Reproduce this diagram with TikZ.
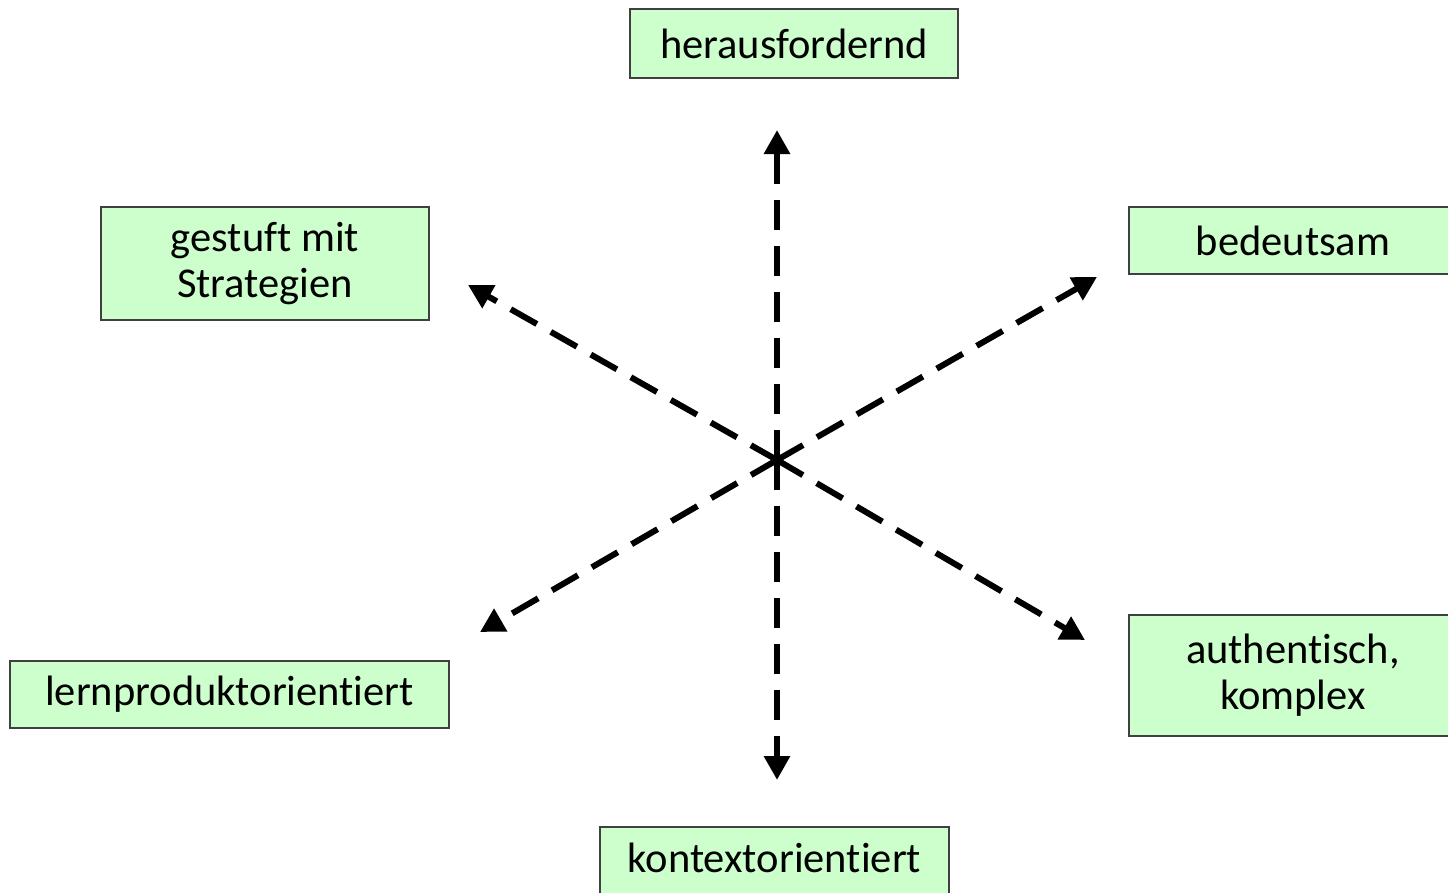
\documentclass[tikz,border=0pt]{standalone}
\usepackage{fontspec}
\setmainfont{Carlito}[Ligatures={NoCommon}]
\usetikzlibrary{arrows.meta}
\definecolor{boxgreen}{HTML}{CCFFCC}
\definecolor{boxline}{HTML}{404040}
\begin{document}
\begin{tikzpicture}[x=1pt,y=-1pt,
  box/.style={draw=boxline,line width=2pt,fill=boxgreen,rectangle,inner sep=0pt,
    align=center,font=\fontsize{42.5}{46}\selectfont},
  dasharrow/.style={line width=6pt,dash pattern=on 30pt off 16pt,
    -{Triangle[length=24pt,width=25pt]}}]
\clip (0,0) rectangle (1448,892);
\fill[white] (0,0) rectangle (1448,892);
\node[box,minimum width=328pt,minimum height=69pt] (top) at (794,43.5) {herausfordernd};
\node[box,minimum width=328pt,minimum height=113pt] (ul) at (265,263.5) {gestuft mit\\Strategien};
\node[box,minimum width=328pt,minimum height=67pt] (ur) at (1293,240.5) {bedeutsam};
\node[box,minimum width=439pt,minimum height=67pt] (ll) at (229.5,694.5) {lernproduktorientiert};
\node[box,minimum width=328pt,minimum height=121pt] (lr) at (1293,675.5) {authentisch,\\komplex};
\node[box,minimum width=349pt,minimum height=80pt] (bot) at (774.5,867) {};
\node[font=\fontsize{42.5}{46}\selectfont,inner sep=0pt] (botlabel) at (774.5,858) {kontextorientiert};
\coordinate (c) at (777,460);
\coordinate (eup) at (777,130);
\coordinate (edown) at (777,780);
\coordinate (eul) at (468,285);
\coordinate (eur) at (1097,277);
\coordinate (ell) at (480,632);
\coordinate (elr) at (1085,640);
\draw[dasharrow] (c) -- (eup);
\draw[dasharrow] (c) -- (edown);
\draw[dasharrow] (c) -- (eul);
\draw[dasharrow] (c) -- (eur);
\draw[dasharrow] (c) -- (ell);
\draw[dasharrow] (c) -- (elr);
\end{tikzpicture}
\end{document}
